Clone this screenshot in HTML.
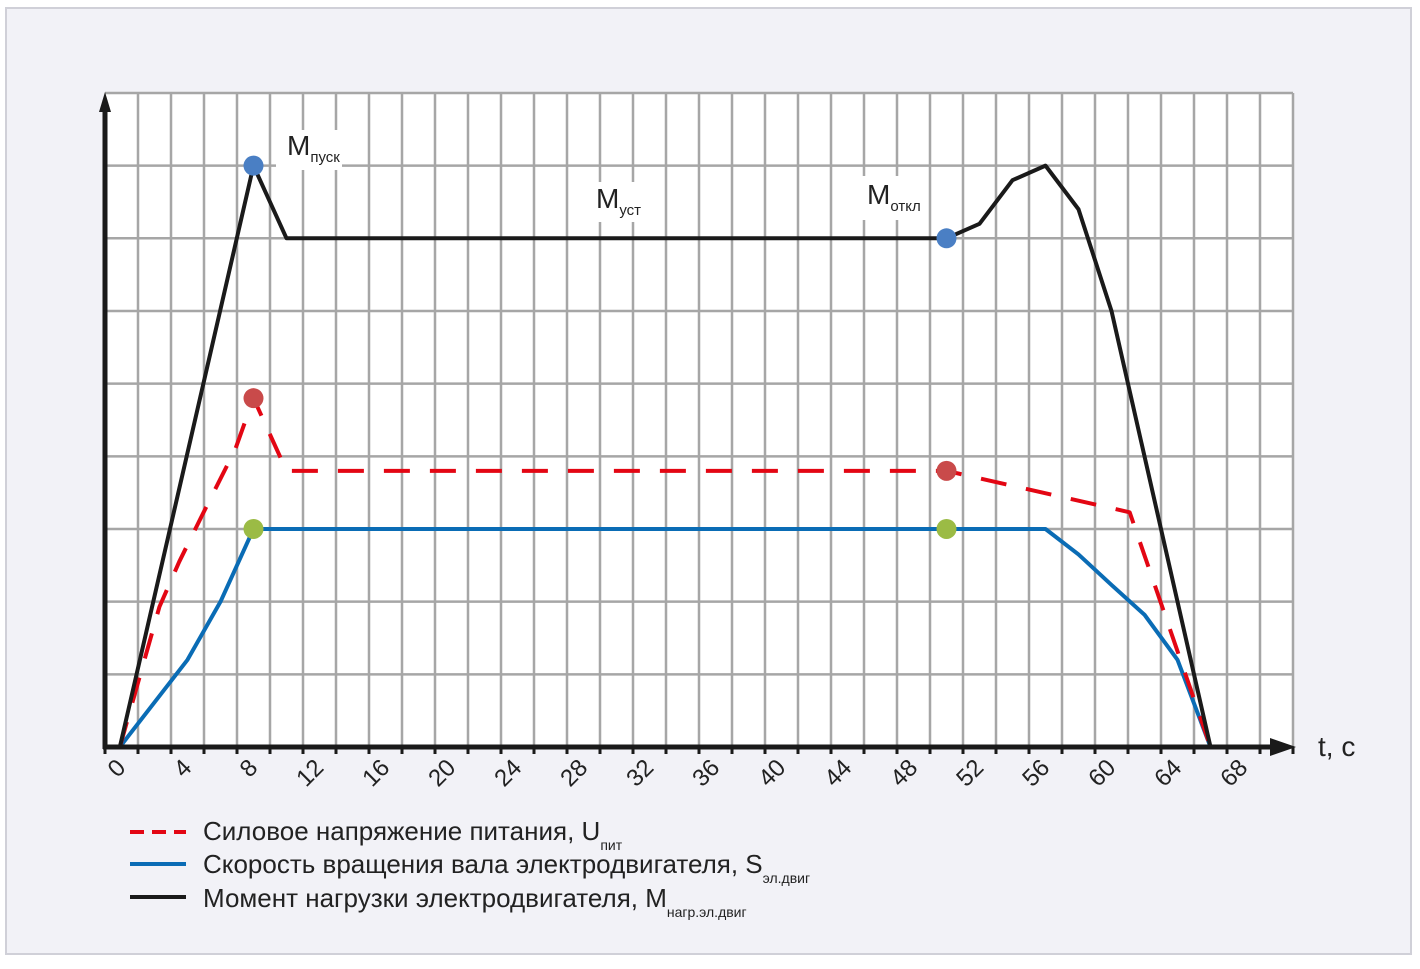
<!DOCTYPE html>
<html><head><meta charset="utf-8"><style>
body{margin:0;background:#fff}
svg text{font-family:"Liberation Sans Narrow","Liberation Sans",sans-serif}
</style></head><body>
<svg id="c" width="1420" height="964" xmlns="http://www.w3.org/2000/svg">
<rect x="6" y="8" width="1405" height="946" fill="#f2f2f7" stroke="#d0d0d8" stroke-width="2"/>
<rect x="106" y="93" width="1187" height="654" fill="#fff"/>
<g id="grid"></g>
<g id="series"></g>
<g id="axes"></g>
<text x="77" y="400" font-size="26" transform="rotate(-90 77 400) scale(1,1.1)" text-anchor="middle" fill="#222" style="transform-box:fill-box">Условные ед.</text>
<text x="1318" y="756" font-size="28" fill="#222">t, c</text>
<g><rect x="276" y="130" width="66" height="40" fill="#fff"/><text x="287" y="155" font-size="28" fill="#222">M<tspan font-size="15" dy="7">пуск</tspan></text></g>
<g><rect x="590" y="182" width="52" height="40" fill="#fff"/><text x="596" y="208" font-size="28" fill="#222">M<tspan font-size="15" dy="7">уст</tspan></text></g>
<g><rect x="862" y="176" width="64" height="44" fill="#fff"/><text x="867" y="204" font-size="28" fill="#222">M<tspan font-size="15" dy="7">откл</tspan></text></g>
<g>
<g><line x1="130" y1="832" x2="186" y2="832" stroke="#e30613" stroke-width="4" stroke-dasharray="14,8"/><text x="203" y="840" font-size="26" fill="#222">Силовое напряжение питания, U<tspan font-size="14" dy="10">пит</tspan></text></g>
<g><line x1="130" y1="864" x2="186" y2="864" stroke="#0a6cb5" stroke-width="4"/><text x="203" y="873" font-size="26" fill="#222">Скорость вращения вала электродвигателя, S<tspan font-size="14" dy="10">эл.двиг</tspan></text></g>
<g><line x1="130" y1="897" x2="186" y2="897" stroke="#1a1a1a" stroke-width="4"/><text x="203" y="907" font-size="26" fill="#222">Момент нагрузки электродвигателя, M<tspan font-size="14" dy="10">нагр.эл.двиг</tspan></text></g>
</g>
</svg>
<script>
const xTickLabels=[0,4,8,12,16,20,24,28,32,36,40,44,48,52,56,60,64,68];
const torqueT=[0.9,9,11,51,53,55,57,59,61,67];
const torqueV=[0,8,7,7,7.2,7.8,8,7.4,6,0];
const voltageT=[0.9,3.3,4.5,5.8,7.9,9,11,51,62.1,67];
const voltageV=[0,1.93,2.55,3.15,4.1,4.8,3.8,3.8,3.23,0];
const speedT=[0.9,5,7,9,57,59,61,63,65,67];
const speedV=[0,1.2,2,3,3,2.65,2.23,1.82,1.2,0];
const markerT=[9,51];
const markerTorque=[8,7];
const markerVoltage=[4.8,3.8];
const markerSpeed=[3,3];
const X0=105,X1=1293,TMAX=72,Y0=747,UNIT=72.67;
const sx=t=>X0+(X1-X0)*t/TMAX, sy=v=>Y0-v*UNIT;
const NS="http://www.w3.org/2000/svg";
function mk(tag,attrs,parent){const e=document.createElementNS(NS,tag);for(const k in attrs)e.setAttribute(k,attrs[k]);parent.appendChild(e);return e;}
const grid=document.getElementById('grid'),series=document.getElementById('series'),axes=document.getElementById('axes');
for(let t=2;t<=TMAX;t+=2){const l=mk('line',{x1:sx(t),y1:93,x2:sx(t),y2:Y0,stroke:'#a6a6a6','stroke-width':2.5},grid);

}
for(let v=1;v<=9;v++){const l=mk('line',{x1:X0,y1:sy(v),x2:X1,y2:sy(v),stroke:'#a6a6a6','stroke-width':2.5},grid);

}
function path(T,V,attrs,name){const d=T.map((t,i)=>(i?'L':'M')+sx(t)+','+sy(V[i])).join(' ');const p=mk('path',Object.assign({d:d,fill:'none','stroke-linejoin':'round'},attrs),series);

}
path(speedT,speedV,{stroke:'#0a6cb5','stroke-width':4},'speed-line');
path(voltageT,voltageV,{stroke:'#e30613','stroke-width':4,'stroke-dasharray':'26,20'},'voltage-line');
path(torqueT,torqueV,{stroke:'#1a1a1a','stroke-width':4},'torque-line');
function dots(V,color,name){markerT.forEach((t,i)=>{const c=mk('circle',{cx:sx(t),cy:sy(V[i]),r:10,fill:color},series);

});}
dots(markerTorque,'#4a7fc4','torque-marker');
dots(markerVoltage,'#c94a4a','voltage-marker');
dots(markerSpeed,'#9bbb45','speed-marker');
const ya=mk('line',{x1:X0,y1:Y0+2,x2:X0,y2:100,stroke:'#1a1a1a','stroke-width':5},axes);


const yh=mk('polygon',{points:`${X0-6},112 ${X0},92 ${X0+6},112`,fill:'#1a1a1a'},axes);


const xa=mk('line',{x1:X0-2,y1:Y0,x2:1285,y2:Y0,stroke:'#1a1a1a','stroke-width':5},axes);


const xh=mk('polygon',{points:`1270,738 1296,747 1270,756`,fill:'#1a1a1a'},axes);


for(let t=0;t<=TMAX;t+=2){const k=mk('line',{x1:sx(t),y1:Y0,x2:sx(t),y2:Y0+7,stroke:'#1a1a1a','stroke-width':3},axes);

}
xTickLabels.forEach(v=>{const x=sx(v)+22,y=Y0+22;const tx=mk('text',{x:x,y:y,'font-size':24,fill:'#222','text-anchor':'end',transform:`rotate(-45 ${x} ${y})`},axes);tx.textContent=v;

});
</script>
</body></html>
